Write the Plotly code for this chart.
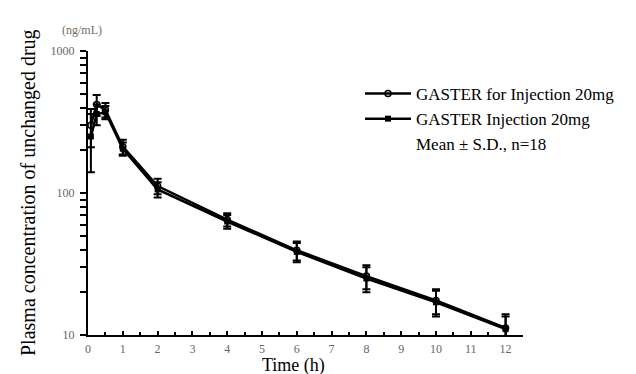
import plotly.graph_objects as go

# Data
time_h = [0.083, 0.25, 0.5, 1, 2, 4, 6, 8, 10, 12]
for_injection_mean = [300, 420, 385, 212, 112, 65, 39.5, 26, 17.5, 11.2]
for_injection_sd = [90, 70, 45, 25, 14, 7, 6, 5, 3.5, 2.8]
injection_mean = [250, 360, 370, 205, 106, 63, 38.5, 25, 17, 11]
injection_sd = [110, 60, 40, 22, 13, 7, 6, 5, 3.5, 2.5]

x_ticks = list(range(0, 13))
x_minor_ticks = [i + 0.5 for i in range(0, 13)]
y_major_ticks = [10, 100, 1000]
y_minor_ticks = [m * d for d in (10, 100) for m in range(2, 10)]

FONT = '"Liberation Serif", "Times New Roman", serif'
TICKCOL = "#666666"

y_tickvals = sorted(y_major_ticks + y_minor_ticks)
y_ticktext = [str(v) if v in y_major_ticks else "" for v in y_tickvals]

fig = go.Figure()

fig.add_trace(go.Scatter(
    x=time_h, y=for_injection_mean, name="GASTER for Injection 20mg",
    mode="lines+markers",
    line=dict(color="black", width=2.5),
    marker=dict(symbol="circle-open", size=6, color="black", line=dict(width=1.5)),
    error_y=dict(type="data", array=for_injection_sd, color="black", thickness=2, width=4),
))
fig.add_trace(go.Scatter(
    x=time_h, y=injection_mean, name="GASTER Injection 20mg",
    mode="lines+markers",
    line=dict(color="black", width=2.5),
    marker=dict(symbol="square", size=6, color="black"),
    error_y=dict(type="data", array=injection_sd, color="black", thickness=2, width=4),
))
fig.add_trace(go.Scatter(
    x=[None], y=[None], name="Mean ± S.D., n=18", mode="lines",
    line=dict(color="rgba(0,0,0,0)", width=0),
))

fig.update_layout(
    width=636, height=374,
    margin=dict(l=80, r=121, t=43, b=47, autoexpand=False),
    paper_bgcolor="white", plot_bgcolor="white",
    font=dict(family=FONT, size=18, color="black"),
    showlegend=True,
    legend=dict(
        x=(352 - 80) / 435, y=(327 - 68) / 284, xanchor="left", yanchor="top",
        bgcolor="rgba(0,0,0,0)", font=dict(family=FONT, size=17, color="black"),
        itemwidth=46, tracegroupgap=0,
    ),
    xaxis=dict(
        range=[0, 12.5], tickvals=x_ticks, ticks="inside", ticklen=4,
        tickwidth=1.5, tickcolor="black",
        minor=dict(tickvals=x_minor_ticks, ticks="inside", ticklen=3, tickcolor="black", tickwidth=1.5),
        showline=True, linecolor="black", linewidth=2, showgrid=False, zeroline=False,
        tickfont=dict(family=FONT, size=12, color=TICKCOL),
        ticklabelstandoff=2,
    ),
    yaxis=dict(
        type="log", range=[1, 3], tickvals=y_tickvals, ticktext=y_ticktext,
        ticks="outside", ticklen=6, tickwidth=1.5, tickcolor="black",
        showline=True, linecolor="black", linewidth=2, showgrid=False, zeroline=False,
        tickfont=dict(family=FONT, size=12, color=TICKCOL),
        ticklabelstandoff=3,
    ),
    annotations=[
        dict(text="Plasma concentration of unchanged drug", textangle=-90,
             xref="paper", yref="paper", x=(20 - 80) / 435, y=(327 - 185) / 284,
             xanchor="center", yanchor="middle", showarrow=False,
             font=dict(family=FONT, size=20, color="black")),
        dict(text="Time (h)", xref="paper", yref="paper",
             x=(285 - 80) / 435, y=(327 - 357) / 284,
             xanchor="center", yanchor="middle", showarrow=False,
             font=dict(family=FONT, size=18, color="black")),
        dict(text="(ng/mL)", xref="paper", yref="paper",
             x=(52 - 80) / 435, y=(327 - 22) / 284,
             xanchor="left", yanchor="middle", showarrow=False,
             font=dict(family=FONT, size=12, color="#7a6a5a")),
    ],
)

fig.write_html("out.html")
